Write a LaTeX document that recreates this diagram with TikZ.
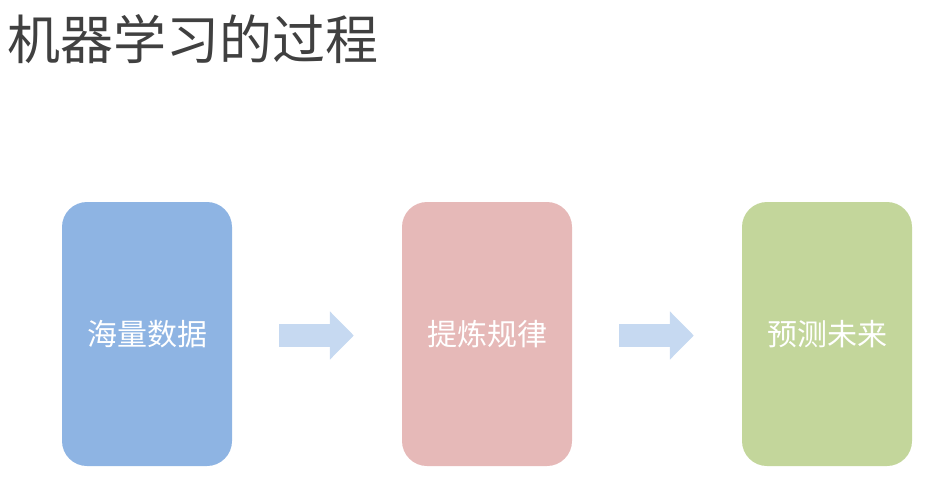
\documentclass[tikz,border=0pt]{standalone}
\usepackage{fontspec}
\setmainfont{Noto Sans CJK SC}
\usetikzlibrary{arrows.meta}

\definecolor{titlegray}{HTML}{404040}
\definecolor{datablue}{HTML}{8EB4E3}
\definecolor{rulepink}{HTML}{E6B9B8}
\definecolor{futuregreen}{HTML}{C3D69B}
\definecolor{arrowblue}{HTML}{C6D9F1}

\begin{document}
\begin{tikzpicture}[x=1pt,y=-1pt,
  stage/.style={rounded corners=25pt, minimum width=170pt, minimum height=264pt,
    inner sep=0pt, text=white, font=\fontsize{30}{36}\selectfont},
  flow/.style={arrowblue, line width=23pt,
    -{Triangle[length=24pt,width=47pt]}}]
  \useasboundingbox (0,0) rectangle (935,480);
  \node[anchor=west, inner sep=0pt, text=titlegray,
    font=\fontsize{53}{60}\selectfont] (title) at (7,39) {机器学习的过程};
  \node[stage, fill=datablue] (data) at (147,334) {海量数据};
  \node[stage, fill=rulepink] (rule) at (487,334) {提炼规律};
  \node[stage, fill=futuregreen] (future) at (827,334) {预测未来};
  \draw[flow] ([shift={(47,1.5)}]data.east) -- ([shift={(-48,1.5)}]rule.west);
  \draw[flow] ([shift={(47,1.5)}]rule.east) -- ([shift={(-48,1.5)}]future.west);
\end{tikzpicture}
\end{document}
